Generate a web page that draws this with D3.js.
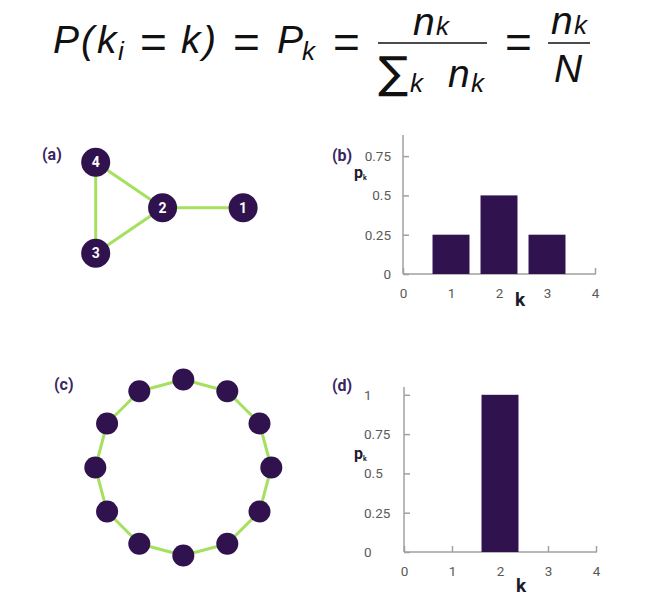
<html>
<head>
<meta http-equiv="Content-Type" content="text/html; charset=utf-8" />
<title>Degree distribution</title>
<script src="https://cdn.jsdelivr.net/npm/d3@7"></script>
<style type="text/css">
	body{ margin: 0; background: #fff; }
	.formula text{ font-family: "Liberation Sans", Arial, sans-serif; font-style: italic; fill: #111; }
	.panel-label{ font-family: Roboto, sans-serif; font-weight: bold; font-size: 16px; fill: #3a2560; }
	.axis path, .axis line{ stroke: #a0a0a0; stroke-width: 1.5; }
	.axis text{ font-family: Roboto, sans-serif; font-size: 13.5px; fill: #5a5a5a; }
	.axis-title{ font-family: Roboto, sans-serif; font-weight: bold; fill: #1e1a2a; }
</style>
</head>
<body>
<script type="text/javascript">
	// degree distribution values
	var kB = [1, 2, 3];
	var pkB = [0.25, 0.5, 0.25];
	var kD = [2];
	var pkD = [1];
	var xTicks = [0, 1, 2, 3, 4];
	var yTicksB = [0, 0.25, 0.5, 0.75];
	var yTicksD = [0, 0.25, 0.5, 0.75, 1];

	// small network (a): node ids, layout units and links
	var nodesA = [1, 2, 3, 4];
	var layoutA = [[3.24, 0], [1.47, 0], [0, -1], [0, 1]];
	var linksA = [[4, 2], [4, 3], [3, 2], [2, 1]];

	// ring network (c): 12 nodes, each linked to the next one
	var ringSize = 12;

	var purple = '#30124f';
	var green = '#a5e05f';

	var svg = d3.select('body').append('svg')
		.attr('width', 647)
		.attr('height', 613);

	// ---- formula ----
	// each group is one text; parts are [string, x, y, font size]
	var f = svg.append('g').attr('class', 'formula');
	var groups = [
		[['P', 53, 53, 39], ['(', 81, 53, 39], ['k', 97, 53, 39], ['i', 118, 60, 26]],
		[['k', 181, 53, 39], [')', 203, 53, 39]],
		[['P', 277, 53, 39], ['k', 302, 60, 26]],
		[['n', 413, 35, 39], ['k', 436, 35, 26]],
		[['k', 410, 92, 26], ['n', 448, 87, 39], ['k', 471, 92, 26]],
		[['n', 551, 34, 39], ['k', 574, 34, 26]],
		[['N', 554, 82, 39]]
	];
	var gt = f.selectAll('text.p')
		.data(groups)
		.enter()
		.append('text')
		.attr('class', 'p');
	gt.selectAll('tspan')
		.data(function(d){ return d; })
		.enter()
		.append('tspan')
		.attr('x', function(d){ return d[1]; })
		.attr('y', function(d){ return d[2]; })
		.style('font-size', function(d){ return d[3] + 'px'; })
		.text(function(d){ return d[0]; });

	f.selectAll('text.eq')
		.data([153.5, 246.5, 346.5, 518.5])
		.enter()
		.append('text')
		.attr('class', 'eq')
		.attr('x', function(d){ return d; })
		.attr('y', 58)
		.attr('text-anchor', 'middle')
		.style('font-style', 'normal')
		.style('font-size', '46px')
		.text('=');

	f.append('text')
		.attr('x', 378)
		.attr('y', 88)
		.style('font-family', '"DejaVu Sans", sans-serif')
		.style('font-style', 'normal')
		.style('font-size', '44px')
		.attr('textLength', 30)
		.attr('lengthAdjust', 'spacingAndGlyphs')
		.text('\u2211');

	f.selectAll('line')
		.data([[378, 487], [548, 590]])
		.enter()
		.append('line')
		.attr('x1', function(d){ return d[0]; })
		.attr('x2', function(d){ return d[1]; })
		.attr('y1', 43)
		.attr('y2', 43)
		.attr('stroke', '#111')
		.attr('stroke-width', 1.5);

	// ---- panel labels ----
	svg.selectAll('text.panel-label')
		.data([['(a)', 42, 160], ['(b)', 332, 161], ['(c)', 54, 390], ['(d)', 332, 391]])
		.enter()
		.append('text')
		.attr('class', 'panel-label')
		.attr('x', function(d){ return d[1]; })
		.attr('y', function(d){ return d[2]; })
		.text(function(d){ return d[0]; });

	// ---- (a) small network ----
	var ax = d3.scaleLinear().domain([0, 1]).range([95.7, 141.2]);
	var ay = d3.scaleLinear().domain([-1, 1]).range([253.3, 162.3]);
	var posA = {};
	nodesA.forEach(function(id, i){ posA[id] = layoutA[i]; });

	var ga = svg.append('g');
	ga.selectAll('line')
		.data(linksA)
		.enter()
		.append('line')
		.attr('x1', function(d){ return ax(posA[d[0]][0]); })
		.attr('y1', function(d){ return ay(posA[d[0]][1]); })
		.attr('x2', function(d){ return ax(posA[d[1]][0]); })
		.attr('y2', function(d){ return ay(posA[d[1]][1]); })
		.attr('stroke', green)
		.attr('stroke-width', 3);
	var na = ga.selectAll('g.node')
		.data(nodesA)
		.enter()
		.append('g')
		.attr('class', 'node')
		.attr('transform', function(d){ return 'translate(' + ax(posA[d][0]) + ',' + ay(posA[d][1]) + ')'; });
	na.append('circle')
		.attr('r', 14.5)
		.attr('fill', purple);
	na.append('text')
		.attr('text-anchor', 'middle')
		.attr('dy', '0.36em')
		.style('font-family', 'Roboto, sans-serif')
		.style('font-weight', 'bold')
		.style('font-size', '14px')
		.attr('fill', '#fff')
		.text(function(d){ return d; });

	// ---- (c) ring network ----
	var ringIdx = d3.range(ringSize);
	var angle = d3.scaleLinear().domain([0, ringSize]).range([0, 2 * Math.PI]);
	var cx = 183.3, cy = 467.5, R = 88;
	function rx(i){ return cx + R * Math.sin(angle(i)); }
	function ry(i){ return cy - R * Math.cos(angle(i)); }

	var gc = svg.append('g');
	gc.selectAll('line')
		.data(ringIdx)
		.enter()
		.append('line')
		.attr('x1', function(d){ return rx(d); })
		.attr('y1', function(d){ return ry(d); })
		.attr('x2', function(d){ return rx((d + 1) % ringSize); })
		.attr('y2', function(d){ return ry((d + 1) % ringSize); })
		.attr('stroke', green)
		.attr('stroke-width', 3);
	gc.selectAll('circle')
		.data(ringIdx)
		.enter()
		.append('circle')
		.attr('cx', function(d){ return rx(d); })
		.attr('cy', function(d){ return ry(d); })
		.attr('r', 11)
		.attr('fill', purple);

	// ---- bar charts ----
	function drawBars(ks, pks, yTicks, x0, y0, yTop, labelAnchor, labelX, kLabelY, pLabelY){
		var x = d3.scaleLinear().domain([0, 4]).range([x0, x0 + 192]);
		var y = d3.scaleLinear().domain([0, 0.25]).range([y0, y0 - 39.3]);
		var g = svg.append('g');

		var xa = g.append('g')
			.attr('class', 'axis')
			.attr('transform', 'translate(0,' + y0 + ')')
			.call(d3.axisBottom(x).tickValues(xTicks).tickSizeInner(-6).tickSizeOuter(0).tickPadding(14).tickFormat(d3.format('d')));
		xa.select('.domain').attr('d', 'M' + x(0) + ',0H' + (x(4) + 1));

		var ya = g.append('g')
			.attr('class', 'axis')
			.attr('transform', 'translate(' + x0 + ',0)')
			.call(d3.axisLeft(y).tickValues(yTicks).tickSizeInner(-6).tickSizeOuter(0).tickPadding(12).tickFormat(function(d){ return String(d); }));
		ya.select('.domain').attr('d', 'M0,' + yTop + 'V' + y0);
		ya.selectAll('.tick text')
			.attr('text-anchor', labelAnchor)
			.attr('x', labelX);

		// bars on top of the inward ticks
		g.selectAll('rect')
			.data(ks)
			.enter()
			.append('rect')
			.attr('x', function(d){ return x(d - 0.385); })
			.attr('width', x(0.77) - x(0))
			.attr('y', function(d, i){ return y(pks[i]); })
			.attr('height', function(d, i){ return y0 - y(pks[i]); })
			.attr('fill', purple);

		g.append('text')
			.attr('class', 'axis-title')
			.attr('x', x0 + 112)
			.attr('y', kLabelY)
			.style('font-size', '19px')
			.text('k');
		var p = g.append('text')
			.attr('class', 'axis-title')
			.attr('x', 354)
			.attr('y', pLabelY)
			.style('font-size', '16px');
		p.append('tspan').text('p');
		p.append('tspan')
			.attr('dy', 2)
			.style('font-size', '7px')
			.text('k');
	}

	drawBars(kB, pkB, yTicksB, 403, 274, 135, 'end', -12, 306, 178);
	drawBars(kD, pkD, yTicksD, 404, 552, 387, 'start', -40, 592, 459);
</script>
</body>
</html>
